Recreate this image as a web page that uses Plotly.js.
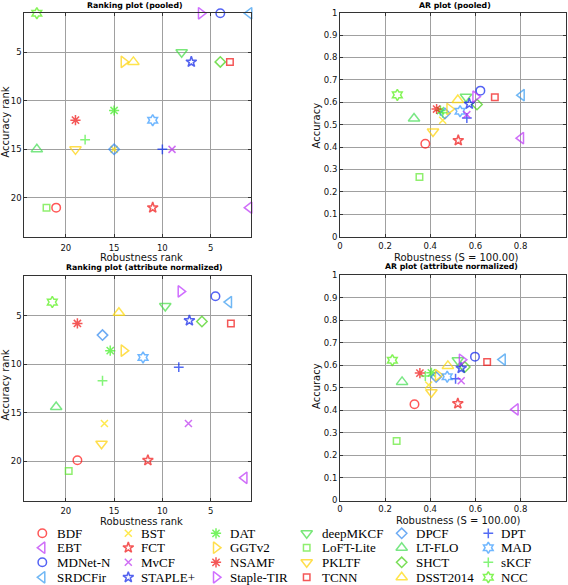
<!DOCTYPE html>
<html><head><meta charset="utf-8">
<script src="https://cdn.plot.ly/plotly-3.0.1.min.js"></script>
<style>html,body{margin:0;padding:0;background:#fff;} #chart{width:568px;height:585px;}</style>
</head><body><div id="chart"></div>
<script>
// ---------------- DATA ----------------
const trackers = ['BDF','BST','DAT','deepMKCF','DPCF','DPT',
  'EBT','FCT','GGTv2','LoFT-Lite','LT-FLO','MAD',
  'MDNet-N','MvCF','NSAMF','PKLTF','SHCT','sKCF',
  'SRDCFir','STAPLE+','Staple-TIR','TCNN','DSST2014','NCC'];

// Ranking plot (pooled)
const pooledRobRank = [21,15,15,8,15,10, 1,11,14,22,23,11, 4,9,19,19,4,18, 1,7,6,3,13,23];
const pooledAccRank = [21,15,11,5,15,15, 21,21,6,21,15,12, 1,15,12,15,6,14, 1,6,1,6,6,1];

// Ranking plot (attribute normalized)
const normRobRank = [18.8,16.0,15.4,9.7,16.2,8.3, 1.5,11.5,14.0,19.7,21.0,12.0, 4.5,7.3,18.8,16.3,5.9,16.2, 3.1,7.2,8.1,2.9,14.5,21.4];
const normAccRank = [19.9,16.1,8.6,4.0,7.0,10.3, 21.7,19.9,8.6,21.0,14.4,9.3, 3.0,16.1,5.8,18.2,5.6,11.7, 3.6,5.5,2.5,5.8,4.7,3.6];

// AR plot (pooled)
const pooledRobustness = [0.378,0.455,0.445,0.558,0.465,0.562, 0.802,0.524,0.485,0.352,0.328,0.532, 0.622,0.562,0.428,0.412,0.607,0.455, 0.805,0.573,0.600,0.686,0.522,0.254];
const pooledAccuracy   = [0.415,0.520,0.563,0.625,0.550,0.530, 0.440,0.430,0.570,0.266,0.528,0.560, 0.652,0.545,0.570,0.470,0.590,0.553, 0.632,0.593,0.625,0.622,0.610,0.633];

// AR plot (attribute normalized)
const normRobustness = [0.330,0.393,0.405,0.522,0.426,0.512, 0.778,0.522,0.434,0.251,0.275,0.475, 0.598,0.537,0.354,0.405,0.553,0.378, 0.721,0.537,0.540,0.652,0.478,0.232];
const normAccuracy   = [0.427,0.512,0.566,0.622,0.548,0.540, 0.404,0.430,0.556,0.264,0.526,0.549, 0.638,0.531,0.565,0.480,0.592,0.552, 0.625,0.587,0.624,0.614,0.597,0.622];

const rankTicks = [5,10,15,20];
const arXTicks = [0,0.2,0.4,0.6,0.8,1];
const arYTicks = [0,0.1,0.2,0.3,0.4,0.5,0.6,0.7,0.8,0.9,1];

// ---------------- STYLES ----------------
const colors = ['#FF1010','#FFE000','#3CF01E','#40DD40','#2F88F0','#0A2CF0',
  '#BB30F5','#F01010','#FFD000','#60E830','#40DD50','#3399FF',
  '#0A20F0','#BB30F0','#F01010','#FFD000','#40D010','#50F040',
  '#3399F0','#0A20E8','#BB30FF','#F01010','#FFD800','#50F010'];
const symbols = ['circle-open','x-thin-open','asterisk-open','triangle-down-open','diamond-open','cross-thin-open',
  'triangle-left-open','star-open','triangle-right-open','square-open','triangle-up-open','hexagram-open',
  'circle-open','x-thin-open','asterisk-open','triangle-down-open','diamond-open','cross-thin-open',
  'triangle-left-open','star-open','triangle-right-open','square-open','triangle-up-open','hexagram-open'];
const symbolSize = {'circle-open':8.5,'x-thin-open':7,'asterisk-open':8.5,'triangle-down-open':10,
  'diamond-open':8,'cross-thin-open':7,'triangle-left-open':10,'star-open':8,'triangle-right-open':10,
  'square-open':6.5,'triangle-up-open':10,'hexagram-open':8.5};
const sizes = symbols.map(s => symbolSize[s]);

const W = 568, H = 585;
const px = v => v / W;
const py = v => 1 - v / H;

function marker() {
  return {symbol: symbols, color: colors, size: sizes, line: {width: 1.5, color: colors}};
}
function scatter(x, y, xa, ya) {
  return {type: 'scatter', mode: 'markers', x: x, y: y, xaxis: xa, yaxis: ya,
    text: trackers, marker: marker(), cliponaxis: false, showlegend: false, hoverinfo: 'text+x+y'};
}

const traces = [
  scatter(pooledRobRank, pooledAccRank, 'x', 'y'),
  scatter(pooledRobustness, pooledAccuracy, 'x2', 'y2'),
  scatter(normRobRank, normAccRank, 'x3', 'y3'),
  scatter(normRobustness, normAccuracy, 'x4', 'y4')
];

// manual legend (6 columns x 4 rows, row-major)
const legColX = [42.3, 128.3, 216, 306.7, 401.7, 488.3];
const legTextX = [55.5, 140, 228.7, 320.7, 415, 500];
const legRowY = [533.3, 547.7, 562.3, 577.3];
traces.push({type: 'scatter', mode: 'markers', xaxis: 'x5', yaxis: 'y5',
  x: trackers.map((t, i) => legColX[i % 6]), y: trackers.map((t, i) => legRowY[Math.floor(i / 6)]),
  marker: marker(), cliponaxis: false, showlegend: false, hoverinfo: 'skip'});

const tickFont = {family: 'DejaVu Sans', size: 8.5, color: '#111'};
function axisBase(extra) {
  return Object.assign({
    showgrid: true, gridcolor: '#a0a0a0', gridwidth: 1, zeroline: false,
    showline: true, linecolor: '#333', linewidth: 1, mirror: 'ticks',
    ticks: 'inside', ticklen: 3, tickcolor: '#333', tickfont: tickFont, fixedrange: true
  }, extra);
}

const xdomL = [px(24.3), px(250.7)], xdomR = [px(340), px(565.7)];
const layout = {
  width: W, height: H, margin: {l: 0, r: 0, t: 0, b: 0},
  paper_bgcolor: '#fff', plot_bgcolor: 'rgba(0,0,0,0)', showlegend: false,
  xaxis:  axisBase({domain: xdomL, range: [24.3, 0.85], tickvals: rankTicks, anchor: 'y', ticklabelstandoff: 2}),
  yaxis:  axisBase({domain: [py(237.3), py(13.3)], range: [24.05, 1], tickvals: rankTicks, anchor: 'x', ticklabeloverflow: 'allow'}),
  xaxis2: axisBase({domain: xdomR, range: [0, 1], tickvals: arXTicks, anchor: 'y2', ticklabelstandoff: 1}),
  yaxis2: axisBase({domain: [py(236.7), py(12.7)], range: [0, 1], tickvals: arYTicks, anchor: 'x2'}),
  xaxis3: axisBase({domain: xdomL, range: [24.3, 0.85], tickvals: rankTicks, anchor: 'y3', ticklabelstandoff: 2}),
  yaxis3: axisBase({domain: [py(501), py(276)], range: [24.09, 0.91], tickvals: rankTicks, anchor: 'x3', ticklabeloverflow: 'allow'}),
  xaxis4: axisBase({domain: xdomR, range: [0, 1], tickvals: arXTicks, anchor: 'y4'}),
  yaxis4: axisBase({domain: [py(500.5), py(275)], range: [0, 1], tickvals: arYTicks, anchor: 'x4'}),
  xaxis5: {domain: [0, 1], range: [0, W], visible: false, fixedrange: true, anchor: 'y5'},
  yaxis5: {domain: [0, 1], range: [H, 0], visible: false, fixedrange: true, anchor: 'x5'},
  annotations: []
};

const titleFont = {family: 'DejaVu Sans', size: 7.8, color: '#000', weight: 'bold'};
const labFont = {family: 'DejaVu Sans', size: 10, color: '#111'};
function ann(text, x, y, font, angle) {
  layout.annotations.push({text: text, x: px(x), y: py(y), xref: 'paper', yref: 'paper',
    xanchor: 'center', yanchor: 'middle', showarrow: false, font: font, textangle: angle || 0});
}
ann('<b>Ranking plot (pooled)</b>', 135.3, 5.7, titleFont);
ann('<b>AR plot (pooled)</b>', 455, 5.7, titleFont);
ann('<b>Ranking plot (attribute normalized)</b>', 144.3, 267.3, titleFont);
ann('<b>AR plot (attribute normalized)</b>', 451, 266.7, titleFont);
ann('Accuracy rank', 4.6, 122, labFont, -90);
ann('Accuracy rank', 4.6, 385, labFont, -90);
ann('Accuracy', 316, 125.5, labFont, -90);
ann('Accuracy', 316, 386, labFont, -90);
ann('Robustness rank', 141.7, 257.3, labFont);
ann('Robustness rank', 141.7, 521.7, labFont);
ann('Robustness (S = 100.00)', 455.7, 257.3, labFont);
ann('Robustness (S = 100.00)', 458.3, 520.7, labFont);

const legFont = {family: 'Liberation Serif', size: 13, color: '#000'};
trackers.forEach((t, i) => {
  layout.annotations.push({text: t, x: px(legTextX[i % 6]), y: py(legRowY[Math.floor(i / 6)]),
    xref: 'paper', yref: 'paper', xanchor: 'left', yanchor: 'middle', showarrow: false,
    font: legFont, borderpad: 0});
});

Plotly.newPlot('chart', traces, layout, {displayModeBar: false, staticPlot: true});
</script>
</body></html>
